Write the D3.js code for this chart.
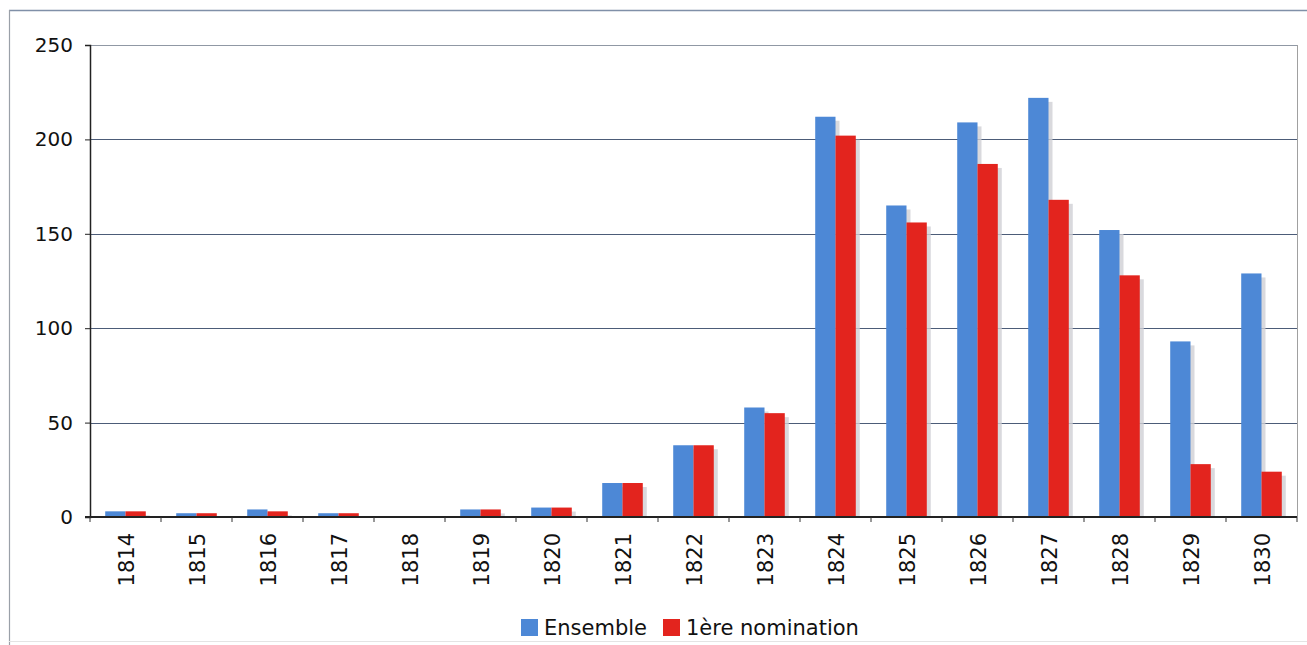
<!DOCTYPE html>
<html><head><meta charset="utf-8">
<script src="https://cdn.jsdelivr.net/npm/d3@7/dist/d3.min.js"></script>
<style>html,body{margin:0;padding:0;background:#fff;}svg{display:block;font-family:"DejaVu Sans",Verdana,sans-serif;}</style>
</head><body>
<svg id="c" width="1307" height="645"></svg>
<script>
const years = ["1814","1815","1816","1817","1818","1819","1820","1821","1822","1823","1824","1825","1826","1827","1828","1829","1830"];
const ensemble = [3,2,4,2,0,4,5,18,38,58,212,165,209,222,152,93,129];
const premiere = [3,2,3,2,0,4,5,18,38,55,202,156,187,168,128,28,24];
const seriesNames = ["Ensemble","1ère nomination"];
const seriesColors = ["#4d88d6","#e3241e"];
const yTicks = [0,50,100,150,200,250];

const svg = d3.select("#c");
const L=90, R=1297, T=45, B=517;

// frame
svg.append("line").attr("x1",9).attr("x2",1307).attr("y1",10.5).attr("y2",10.5).attr("stroke","#8090a8").attr("stroke-width",1.5);
svg.append("line").attr("x1",9.5).attr("x2",9.5).attr("y1",10).attr("y2",645).attr("stroke","#9aa0a8").attr("stroke-width",1.2);
svg.append("line").attr("x1",9).attr("x2",1307).attr("y1",641.5).attr("y2",641.5).attr("stroke","#e4e4e4").attr("stroke-width",1);

const x = d3.scaleBand().domain(years).range([L,R]).padding(0);
const xs = d3.scaleBand().domain(seriesNames).range([0,x.bandwidth()]).paddingInner(0).paddingOuter(0.75);
const y = d3.scaleLinear().domain([0,250]).range([B,T]);

// gridlines
svg.append("g").selectAll("line").data(yTicks.filter(d=>d>0)).join("line")
  .attr("x1",L).attr("x2",R).attr("y1",d=>Math.round(y(d))+0.5).attr("y2",d=>Math.round(y(d))+0.5)
  .attr("stroke",d=>d===250?"#9098a4":"#4c5c78").attr("stroke-width",1);
// right plot border
svg.append("line").attr("x1",R+0.5).attr("x2",R+0.5).attr("y1",T).attr("y2",B).attr("stroke","#a0a0a0").attr("stroke-width",1);

const data = years.map((yr,i)=>({yr, vals:[ensemble[i],premiere[i]]}));
svg.append("clipPath").attr("id","pc").append("rect").attr("x",L).attr("y",0).attr("width",R-L+10).attr("height",B);
const g = svg.append("g").attr("clip-path","url(#pc)");
const groups = g.selectAll("g.grp").data(data).join("g").attr("transform",d=>`translate(${x(d.yr)},0)`);
// shadows
groups.selectAll("rect.sh").data(d=>d.vals.map((v,j)=>({v,s:seriesNames[j]}))).join("rect")
  .attr("x",d=>xs(d.s)+4).attr("y",d=>y(d.v)+4).attr("width",xs.bandwidth()).attr("height",d=>B-y(d.v))
  .attr("fill","#cfcfd4").attr("opacity",d=>d.v>0?0.8:0);
groups.selectAll("rect.bar").data(d=>d.vals.map((v,j)=>({v,s:seriesNames[j],c:seriesColors[j]}))).join("rect")
  .attr("x",d=>xs(d.s)).attr("y",d=>y(d.v)).attr("width",xs.bandwidth()).attr("height",d=>B-y(d.v))
  .attr("fill",d=>d.c);

// y axis
const ya = svg.append("g").attr("transform",`translate(${L},0)`)
  .call(d3.axisLeft(y).tickValues(yTicks).tickSize(5).tickPadding(12));
ya.select(".domain").attr("stroke","#222").attr("stroke-width",1.5);
ya.selectAll(".tick line").attr("stroke","#222");
ya.selectAll("text").attr("font-size","20px").attr("fill","#111").attr("font-family","'DejaVu Sans',Verdana,sans-serif");

// x axis
const xa = svg.append("g").attr("transform",`translate(0,${B})`);
xa.append("line").attr("x1",L-5).attr("x2",R).attr("y1",0).attr("y2",0).attr("stroke","#222").attr("stroke-width",2);
xa.selectAll("line.tk").data(years.concat(["end"])).join("line")
  .attr("x1",(d,i)=>L+i*x.step()).attr("x2",(d,i)=>L+i*x.step()).attr("y1",0).attr("y2",5)
  .attr("stroke","#333");
xa.selectAll("text").data(years).join("text")
  .attr("transform",d=>`translate(${x(d)+x.bandwidth()/2+8},16) rotate(-90)`)
  .attr("text-anchor","end").attr("font-size","21px").attr("fill","#111")
  .text(d=>d);

// legend
const lg = svg.append("g").attr("font-size","21px").attr("fill","#111");
const items = [{n:seriesNames[0],c:seriesColors[0],x:521},{n:seriesNames[1],c:seriesColors[1],x:663}];
items.forEach(it=>{
  lg.append("rect").attr("x",it.x).attr("y",619).attr("width",17).attr("height",17).attr("fill",it.c);
  lg.append("text").attr("x",it.x+23).attr("y",635).text(it.n);
});
</script>
</body></html>
